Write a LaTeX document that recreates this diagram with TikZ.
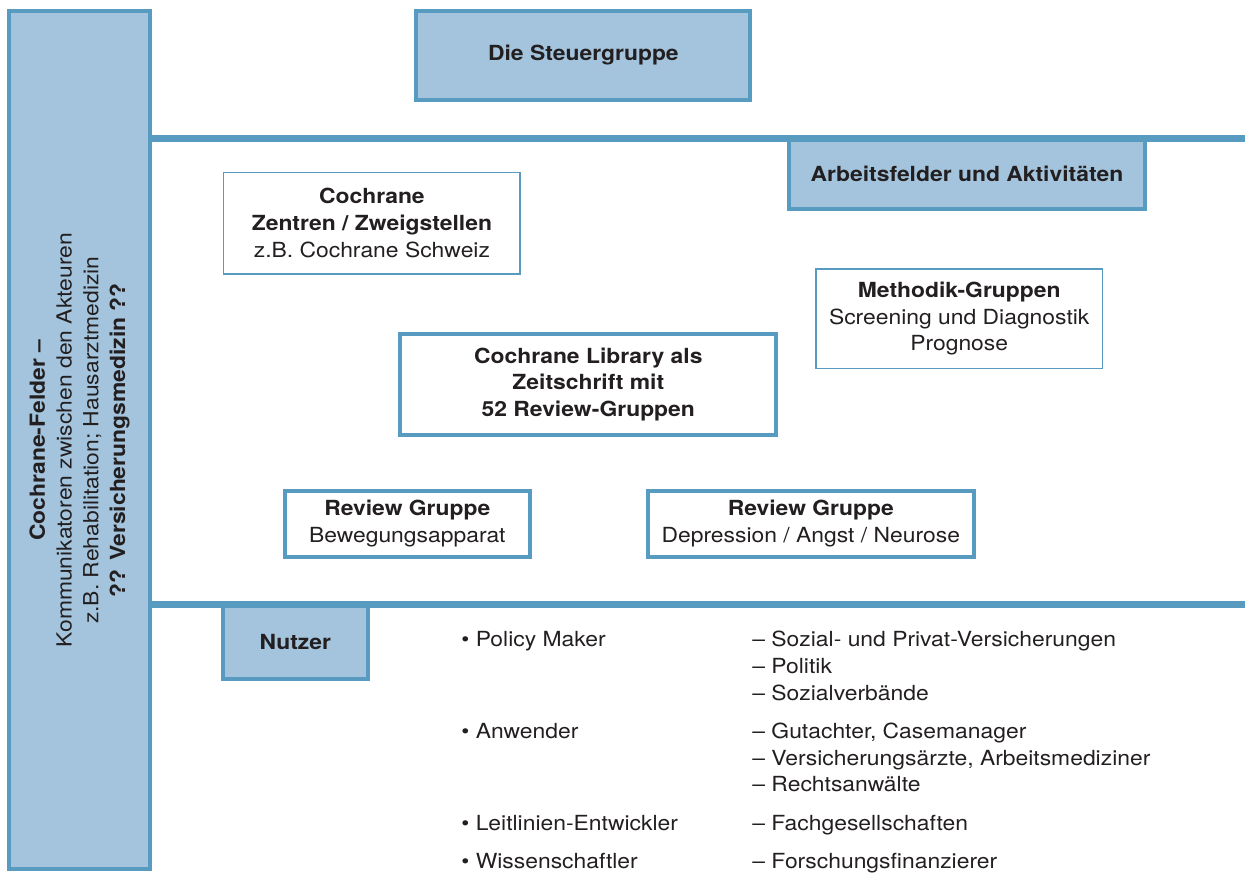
\documentclass[tikz,border=0pt]{standalone}
\usepackage{fontspec}
\setmainfont{TeX Gyre Heros}[FakeStretch=1.1]
\usetikzlibrary{positioning,calc}
\definecolor{cblue}{RGB}{88,155,192}
\definecolor{cfill}{RGB}{163,196,220}
\definecolor{ctext}{RGB}{35,31,32}

\begin{document}
\begin{tikzpicture}[x=0.5pt,y=-0.5pt,
    every node/.style={text=ctext,font=\fontsize{10.4}{13.4}\selectfont,inner sep=0pt,align=center},
    headbox/.style={draw=cblue,fill=cfill,line width=2pt},
    groupbox/.style={draw=cblue,fill=white,line width=2pt},
    thinbox/.style={draw=cblue,fill=white,line width=0.8pt},
    rule/.style={draw=cblue,line width=3.6pt},
    item/.style={anchor=base west,align=left}]
    \useasboundingbox (0,0) rectangle (1245,872);

    % Felder bar on the left
    \node[headbox,rotate=90,minimum width=857.5*0.5pt,minimum height=140.3*0.5pt] (felder) at (79.6,440.2)
      {\textbf{Cochrane-Felder –}\\Kommunikatoren zwischen den Akteuren\\z.B. Rehabilitation; Hausarztmedizin\\\textbf{?? Versicherungsmedizin ??}};

    \node[headbox,minimum width=334*0.5pt,minimum height=88.4*0.5pt] (steuer) at (583.4,55.5) {\textbf{Die Steuergruppe}};
    \node[headbox,minimum width=355.4*0.5pt,minimum height=70*0.5pt] (arbeit) at (967,173.7) {\textbf{Arbeitsfelder und Aktivitäten}};
    \node[headbox,minimum width=145.3*0.5pt,minimum height=75*0.5pt] (nutzer) at (295.3,641.8) {\textbf{Nutzer}};

    \node[thinbox,minimum width=296.7*0.5pt,minimum height=101.2*0.5pt] (zentren) at (371.9,223.1)
      {\textbf{Cochrane}\\\textbf{Zentren / Zweigstellen}\\z.B. Cochrane Schweiz};
    \node[thinbox,minimum width=286.8*0.5pt,minimum height=99.2*0.5pt] (methodik) at (959.2,318.7)
      {\textbf{Methodik-Gruppen}\\Screening und Diagnostik\\Prognose};
    \node[groupbox,minimum width=376*0.5pt,minimum height=100.4*0.5pt] (library) at (588.3,384.5)
      {\textbf{Cochrane Library als}\\\textbf{Zeitschrift mit}\\\textbf{52 Review-Gruppen}};
    \node[groupbox,minimum width=244.5*0.5pt,minimum height=66*0.5pt] (rev1) at (407.3,523.5)
      {\textbf{Review Gruppe}\\Bewegungsapparat};
    \node[groupbox,minimum width=325.5*0.5pt,minimum height=66*0.5pt] (rev2) at (810.8,523.5)
      {\textbf{Review Gruppe}\\Depression / Angst / Neurose};

    % horizontal rules
    \coordinate (top) at (1245,138.7);
    \coordinate (low) at (1245,604.3);
    \draw[rule] (felder.south |- top) -- (top);
    \draw[rule] (felder.south |- low) -- (low);

    % users
    \foreach \y/\txt [count=\i] in {646.7/Policy Maker,738.3/Anwender,830.7/Leitlinien-Entwickler,868.2/Wissenschaftler}
      \node[item] (u\i) at (461,\y) {•\ \txt};
    \foreach \y/\txt [count=\i] in {646.7/Sozial- und Privat-Versicherungen,673.3/Politik,700/Sozialverbände,
        738.3/{Gutachter, Casemanager},765/{Versicherungsärzte, Arbeitsmediziner},791.7/Rechtsanwälte,
        830.7/Fachgesellschaften,868.2/Forschungsfinanzierer}
      \node[item] (g\i) at (752,\y) {– \txt};
\end{tikzpicture}
\end{document}
